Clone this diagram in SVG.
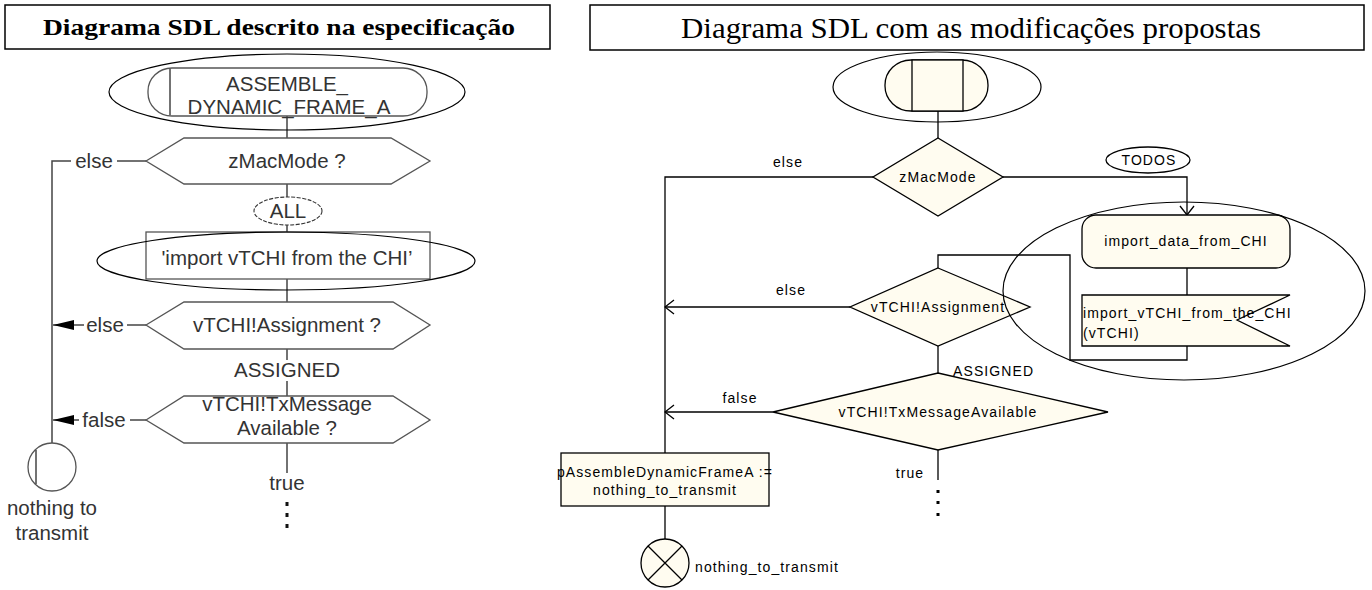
<svg xmlns="http://www.w3.org/2000/svg" width="1372" height="590" viewBox="0 0 1372 590">
<defs>
<style>
.title{font-family:"Liberation Serif","Times New Roman",serif;fill:#000;text-anchor:middle}
.lt{font-family:"Liberation Sans",Arial,sans-serif;font-size:20.5px;fill:#333;text-anchor:middle}
.rt{font-family:"Liberation Sans",Arial,sans-serif;font-size:14px;letter-spacing:1.1px;fill:#000}
.mid{text-anchor:middle}
.box{fill:#fff;stroke:#000;stroke-width:1.5}
.ls{fill:#fff;stroke:#555;stroke-width:1.3}
.ll{fill:none;stroke:#444;stroke-width:1.5}
.ann{fill:none;stroke:#000;stroke-width:1.2}
.dash{fill:none;stroke:#333;stroke-width:1.1;stroke-dasharray:4 1.5}
.rs{fill:#fffcf0;stroke:#000;stroke-width:1.3}
.rl{fill:none;stroke:#000;stroke-width:1.3}
</style>
<marker id="fa" markerUnits="userSpaceOnUse" markerWidth="24" markerHeight="14" viewBox="-23 -7 24 14" refX="0" refY="0" orient="auto"><path d="M-21,-5 L0,0 L-21,5 Z" fill="#000"/></marker>
<marker id="oa" markerUnits="userSpaceOnUse" markerWidth="12" markerHeight="18" viewBox="-11 -9 12 18" refX="0" refY="0" orient="auto"><path d="M-9,-7 L0,0 L-9,7" fill="none" stroke="#000" stroke-width="1.3"/></marker>
</defs>
<rect width="1372" height="590" fill="#fff"/>

<!-- Titles -->
<g id="title-left">
<rect class="box" x="5" y="5" width="545" height="44"/>
<text class="title" x="279" y="35" font-size="24" font-weight="bold" textLength="472" lengthAdjust="spacingAndGlyphs">Diagrama SDL descrito na especificação</text>
</g>
<g id="title-right">
<rect class="box" x="590" y="5" width="774" height="45"/>
<text class="title" x="971" y="38" font-size="29" textLength="580" lengthAdjust="spacingAndGlyphs">Diagrama SDL com as modificações propostas</text>
</g>

<!-- Left connectors -->
<g id="connectors-left">
<path class="ll" d="M287,116 V138 M287,184 V197 M287,225 V232 M287,279 V302 M287,349 V360 M287,381 V396 M287,443 V473"/>
<path class="ll" d="M146,161 H117 M71,161 H52 V443"/>
<path class="ll" d="M146,325 H127"/>
<path class="ll" d="M84,325 H53" marker-end="url(#fa)"/>
<path class="ll" d="M146,420 H130"/>
<path class="ll" d="M79,420 H53" marker-end="url(#fa)"/>
<text class="lt" x="94" y="168">else</text>
<text class="lt" x="105" y="332">else</text>
<text class="lt" x="104" y="427">false</text>
<text class="lt" x="287" y="377">ASSIGNED</text>
<text class="lt" x="287" y="490">true</text>
<rect x="285.5" y="502" width="3" height="4" fill="#111"/>
<rect x="285.5" y="513" width="3" height="4" fill="#111"/>
<rect x="285.5" y="524" width="3" height="4" fill="#111"/>
</g>

<!-- Left nodes -->
<g id="l-start">
<rect class="ls" x="148" y="68" width="279" height="48" rx="24" ry="23"/>
<line class="ll" x1="170" y1="69" x2="170" y2="115"/>
<text class="lt" x="287" y="91" font-size="19.5">ASSEMBLE_</text>
<text class="lt" x="289" y="114" font-size="19.5">DYNAMIC_FRAME_A</text>
<ellipse class="ann" cx="287" cy="92" rx="178" ry="38"/>
</g>
<g id="l-zmacmode">
<polygon class="ls" points="146,161 184,138 391,138 430,161 391,184 184,184"/>
<text class="lt" x="287" y="168">zMacMode ?</text>
</g>
<g id="l-all">
<ellipse class="dash" cx="288" cy="211" rx="34" ry="14"/>
<text class="lt" x="288" y="218">ALL</text>
</g>
<g id="l-import">
<rect class="ls" x="146" y="232" width="284" height="47" stroke="#222"/>
<text class="lt" x="287" y="265">'import vTCHI from the CHI’</text>
<ellipse class="ann" cx="286" cy="261" rx="189" ry="29"/>
</g>
<g id="l-assignment">
<polygon class="ls" points="146,325 184,302 393,302 430,325 393,349 184,349"/>
<text class="lt" x="287" y="332">vTCHI!Assignment ?</text>
</g>
<g id="l-txmessage">
<polygon class="ls" points="146,420 184,396 393,396 430,420 393,443 184,443"/>
<text class="lt" x="287" y="411">vTCHI!TxMessage</text>
<text class="lt" x="287" y="435">Available ?</text>
</g>
<g id="l-end">
<circle class="ls" cx="52" cy="467" r="24"/>
<line class="ll" x1="36" y1="450" x2="36" y2="484"/>
<text class="lt" x="52" y="515">nothing to</text>
<text class="lt" x="52" y="540">transmit</text>
</g>

<!-- Right connectors -->
<g id="connectors-right">
<path class="rl" d="M938,111 V138"/>
<path class="rl" d="M873,177 H665 V453"/>
<path class="rl" d="M850,307 H665" marker-end="url(#oa)"/>
<path class="rl" d="M773,412 H665" marker-end="url(#oa)"/>
<path class="rl" d="M1003,177 H1187 V215" marker-end="url(#oa)"/>
<path class="rl" d="M1187,268 V295"/>
<path class="rl" d="M1187,346 V360 H1070 V255 H938 V268"/>
<path class="rl" d="M938,346 V373"/>
<path class="rl" d="M938,450 V480"/>
<path class="rl" d="M665,506 V539"/>
<text class="rt mid" x="788" y="167">else</text>
<text class="rt mid" x="791" y="295">else</text>
<text class="rt mid" x="740" y="403">false</text>
<text class="rt" x="953" y="376">ASSIGNED</text>
<text class="rt mid" x="910" y="478">true</text>
<rect x="936.5" y="490" width="3" height="3" fill="#000"/>
<rect x="936.5" y="501" width="3" height="3" fill="#000"/>
<rect x="936.5" y="513" width="3" height="3" fill="#000"/>
</g>

<!-- Right nodes -->
<g id="r-start">
<rect class="rs" x="885" y="60" width="103" height="51" rx="26" ry="25"/>
<rect class="rs" x="912" y="60" width="51" height="51"/>
<ellipse class="ann" cx="937" cy="87" rx="104" ry="35"/>
</g>
<g id="r-zmacmode">
<polygon class="rs" points="938,138 1003,177 938,216 873,177"/>
<text class="rt mid" x="938" y="182">zMacMode</text>
</g>
<g id="r-todos">
<ellipse class="rl" cx="1148" cy="160" rx="42" ry="13" fill="#fff"/>
<text class="rt mid" x="1149" y="165">TODOS</text>
</g>
<g id="r-import-data">
<rect class="rs" x="1082" y="215" width="208" height="53" rx="14" ry="14"/>
<text class="rt mid" x="1186" y="246">import_data_from_CHI</text>
</g>
<g id="r-import-vtchi">
<polygon class="rs" points="1082,295 1290,295 1237,320 1290,346 1082,346"/>
<text class="rt" x="1083" y="318">import_vTCHI_from_the_CHI</text>
<text class="rt" x="1083" y="338">(vTCHI)</text>
</g>
<g id="r-assignment">
<polygon class="rs" points="938,268 1030,307 938,346 850,307"/>
<text class="rt mid" x="938" y="312">vTCHI!Assignment</text>
</g>
<g id="r-annotation">
<ellipse class="ann" cx="1184" cy="291" rx="181" ry="89"/>
</g>
<g id="r-txmessage">
<polygon class="rs" points="938,373 1108,412 938,450 773,412"/>
<text class="rt mid" x="938" y="417">vTCHI!TxMessageAvailable</text>
</g>
<g id="r-assign-proc">
<rect class="rs" x="561" y="453" width="208" height="53"/>
<text class="rt mid" x="665" y="477">pAssembleDynamicFrameA :=</text>
<text class="rt mid" x="665" y="495">nothing_to_transmit</text>
</g>
<g id="r-end">
<circle class="rs" cx="665" cy="563" r="24"/>
<path class="rl" d="M648,546 L682,580 M682,546 L648,580"/>
<text class="rt" x="695" y="572">nothing_to_transmit</text>
</g>
</svg>
